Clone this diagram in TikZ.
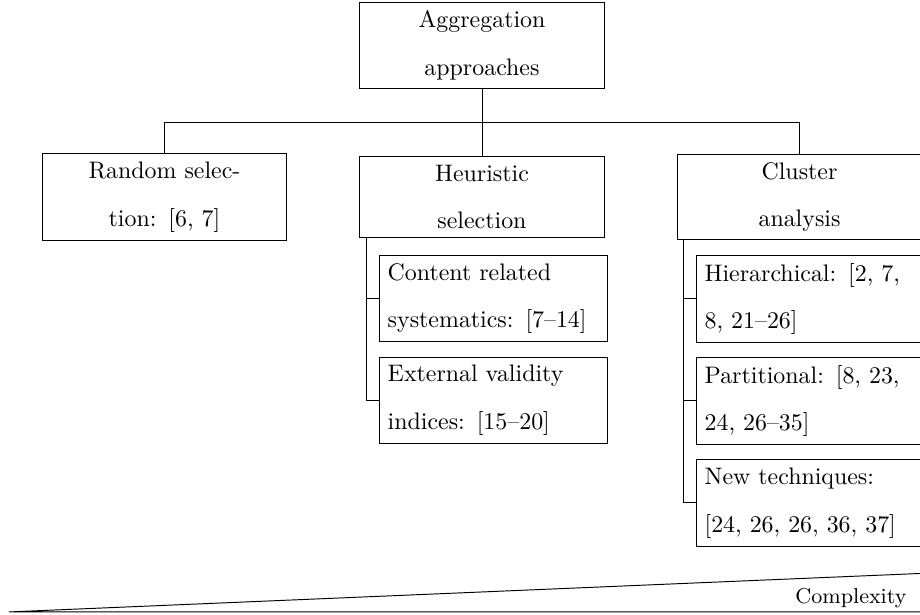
\documentclass[tikz,border=0pt]{standalone}
\usepackage{amsmath}
\usepackage{tikz}
\usetikzlibrary{positioning}

\begin{document}
\begin{tikzpicture}[
            node distance = 2.228cm, % distance between rows
            thin % line style
        ]

        \tikzstyle{topbox}=[
            draw,
            align = center,
            text width = 95.5pt,
            font = \fontsize{10}{20}\selectfont
        ]

        \tikzstyle{subbox}=[
            draw,
            align = left,
            text width = 88.5pt,
            font = \fontsize{10}{20}\selectfont
        ]

        \useasboundingbox (0,0) rectangle (13.531,-9.031);

        \node[topbox] (root) at (7.089,-0.669) {Aggregation\\approaches};
        \node[topbox] (heur) [below of=root] {Heuristic\\selection};
        \node[topbox] (rand) [node distance=4.67cm, left of=heur] {Random selec-\\tion: [6, 7]};
        \node[topbox] (clus) [node distance=4.67cm, right of=heur] {Cluster\\analysis};

        \coordinate (bus) at ([yshift=-0.5cm]root.south);
        \draw (root) -- (heur);
        \draw (rand.north) |- (bus) -| (clus.north);

        \node[subbox] (cont) [node distance=1.493cm, below of=heur, xshift=0.169cm] {Content related\\systematics: [7--14]};
        \node[subbox] (extv) [node distance=1.5cm, below of=cont] {External validity\\indices: [15--20]};

        \coordinate (htrunk) at ([xshift=0.103cm]heur.south west);
        \draw (htrunk) |- (cont.west) (htrunk) |- (extv.west);

        \node[subbox] (hier) [node distance=1.5cm, below of=clus, xshift=0.16cm] {Hierarchical: [2, 7,\\8, 21--26]};
        \node[subbox] (part) [node distance=1.5cm, below of=hier] {Partitional: [8, 23,\\24, 26--35]};
        \node[subbox] (newt) [node distance=1.5cm, below of=part] {New techniques:\\{}[24, 26, 26, 36, 37]};

        \coordinate (ctrunk) at ([xshift=0.103cm]clus.south west);
        \draw (ctrunk) |- (hier.west) (ctrunk) |- (part.west) (ctrunk) |- (newt.west);

        % complexity wedge
        \coordinate (wleft) at (0.13,-9.0);
        \coordinate (wtop) at (13.68,-8.428);
        \coordinate (wcorner) at (13.68,-9.0);
        \draw (wleft) -- (wtop) -- (wcorner) -- cycle;
        \node[font=\small, anchor=base east, inner sep=0pt] (cplx) at (13.34,-8.869) {Complexity};

  \end{tikzpicture}
\end{document}
